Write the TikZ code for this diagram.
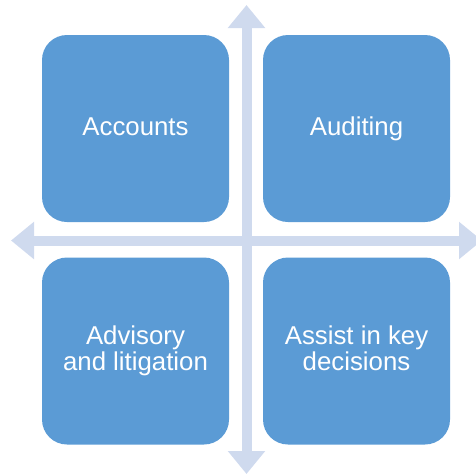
\documentclass[tikz,border=0pt]{standalone}
\usepackage{fontspec}
\setmainfont{Liberation Sans}
\usetikzlibrary{arrows.meta}
\definecolor{tileblue}{HTML}{5B9BD5}
\definecolor{crossblue}{HTML}{CFDAEE}
\tikzset{
  tile/.style={fill=tileblue, draw=none, rounded corners=25pt,
    minimum width=187pt, minimum height=187pt, text=white, align=center,
    font=\fontsize{25.8}{26}\selectfont,
    execute at begin node={\vphantom{d}}, execute at end node={\vphantom{g}}},
  crossarrow/.style={draw=crossblue, line width=10pt,
    {Triangle[length=23pt,width=36pt]}-{Triangle[length=23pt,width=36pt]}},
}
\begin{document}
\begin{tikzpicture}[x=1pt, y=-1pt]
    \useasboundingbox (0,0) rectangle (476,475);
    \coordinate (west) at (11,240.5);
    \coordinate (east) at (482,240.5);
    \coordinate (north) at (246.5,5);
    \coordinate (south) at (246.5,474);
    \node[tile] (accounts) at (135.5,128.5) {Accounts};
    \node[tile] (auditing) at (356.5,128.5) {Auditing};
    \node[tile] (advisory) at (135.5,351) {Advisory\\and litigation};
    \node[tile] (assist) at (356.5,351) {Assist in key\\decisions};
    \draw[crossarrow] (west) -- (east);
    \draw[crossarrow] (north) -- (south);
\end{tikzpicture}
\end{document}
